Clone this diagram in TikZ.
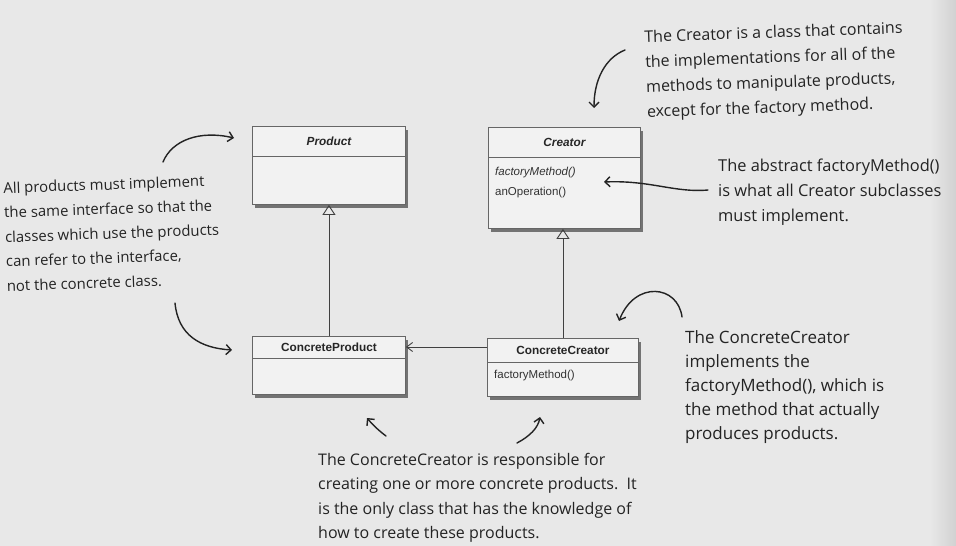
\documentclass[tikz,border=0pt]{standalone}
\usepackage{fontspec}
\setmainfont{Liberation Sans}
\newfontfamily\hand{Open Sans}
\usetikzlibrary{arrows.meta,shadows,calc}
\definecolor{bg}{RGB}{232,232,232}
\definecolor{boxfill}{RGB}{242,242,242}
\definecolor{ink}{RGB}{35,35,35}
\begin{document}
\begin{tikzpicture}[x=1pt,y=-1pt,
  umlbox/.style={draw=black!60, line width=0.9pt, fill=boxfill, anchor=north west, inner sep=0pt,
    drop shadow={shadow xshift=3pt,shadow yshift=-3.5pt,fill=black,opacity=0.5}},
  divider/.style={draw=black!60, line width=0.9pt},
  umltitle/.style={font=\fontsize{11.8}{13}\selectfont\bfseries, text=black!85, inner sep=0pt},
  umlop/.style={font=\fontsize{11.5}{13}\selectfont, text=black!80, inner sep=0pt, anchor=west},
  inherit/.style={draw=black!75, line width=0.9pt, -{Triangle[open,length=10pt,width=13pt]}},
  assoc/.style={draw=black!75, line width=0.9pt, -{Straight Barb[length=6pt,width=9pt]}},
  note/.style={font=\hand\fontsize{16}{24}\selectfont, text=ink, align=left, inner sep=0pt},
  handarrow/.style={draw=ink, line width=1.4pt, line cap=round, -{Straight Barb[length=5pt,width=10pt,line width=1.4pt]}}
]
\fill[bg] (0,0) rectangle (956,546);
\shade[left color=bg, right color=black!18] (930,0) rectangle (956,546);

% UML boxes
\node[umlbox, minimum width=153pt, minimum height=78pt] (prod) at (252,126) {};
\node[umlbox, minimum width=152pt, minimum height=101pt] (cre) at (488,127) {};
\node[umlbox, minimum width=153pt, minimum height=58pt] (cprod) at (252,336) {};
\node[umlbox, minimum width=151pt, minimum height=58pt] (ccre) at (487,338) {};

\draw[divider] ($(prod.north west)+(0,30)$) -- ($(prod.north east)+(0,30)$);
\draw[divider] ($(cre.north west)+(0,30)$) -- ($(cre.north east)+(0,30)$);
\draw[divider] ($(cprod.north west)+(0,22)$) -- ($(cprod.north east)+(0,22)$);
\draw[divider] ($(ccre.north west)+(0,24)$) -- ($(ccre.north east)+(0,24)$);

\node[umltitle] (prodt) at ($(prod.north)+(0,15)$) {\itshape Product};
\node[umltitle] (cret) at ($(cre.north)+(0,15)$) {\itshape Creator};
\node[umltitle] (cprodt) at ($(cprod.north)+(0,11)$) {ConcreteProduct};
\node[umltitle] (ccret) at ($(ccre.north)+(0,12)$) {ConcreteCreator};
\node[umlop] (creop1) at ($(cre.north west)+(7,46)$) {\itshape factoryMethod()};
\node[umlop] (creop2) at ($(cre.north west)+(7,66)$) {anOperation()};
\node[umlop] (ccreop) at ($(ccre.north west)+(7,38)$) {factoryMethod()};

% relations
\draw[inherit] (cprod.north) -- (prod.south);
\draw[inherit] (ccre.north) -- (ccre.north |- cre.south);
\coordinate (assocstart) at ($(ccre.north west)+(0,9)$);
\draw[assoc] (assocstart) -- (assocstart -| cprod.east);

% notes
\node[note, anchor=north west, rotate=2, font=\hand\fontsize{14.9}{24.5}\selectfont] (n1) at (3,182) {All products must implement\\the same interface so that the\\classes which use the products\\can refer to the interface,\\not the concrete class.};
\node[note, anchor=north west, rotate=2, font=\hand\fontsize{16}{25}\selectfont] (n2) at (644,30) {The Creator is a class that contains\\the implementations for all of the\\methods to manipulate products,\\except for the factory method.};
\node[note, anchor=north west, font=\hand\fontsize{16.4}{25}\selectfont] (n3) at (718,159) {The abstract factoryMethod()\\is what all Creator subclasses\\must implement.};
\node[note, anchor=north west, font=\hand\fontsize{17}{24}\selectfont] (n4) at (685,330) {The ConcreteCreator\\implements the\\factoryMethod(), which is\\the method that actually\\produces products.};
\node[note, anchor=north west, font=\hand\fontsize{16}{24.3}\selectfont] (n5) at (318,453) {The ConcreteCreator is responsible for\\creating one or more concrete products.\ \ It\\is the only class that has the knowledge of\\how to create these products.};

% hand arrows
\coordinate (a1s) at (163,162);
\coordinate (a1e) at (234,138);
\draw[handarrow] (a1s) .. controls (172,140) and (200,130) .. (a1e);
\coordinate (a2s) at (175,303);
\coordinate (a2e) at (232,350);
\draw[handarrow] (a2s) .. controls (178,335) and (200,348) .. (a2e);
\coordinate (a3s) at (625,50);
\coordinate (a3e) at (594,108);
\draw[handarrow] (a3s) .. controls (605,58) and (594,80) .. (a3e);
\coordinate (a4s) at (708,190);
\coordinate (a4e) at (604,182);
\draw[handarrow] (a4s) .. controls (675,193) and (650,180) .. (a4e);
\coordinate (a5s) at (682,317);
\coordinate (a5e) at (619,321);
\draw[handarrow] (a5s) .. controls (678,285) and (635,280) .. (a5e);
\coordinate (a6s) at (386,436);
\coordinate (a6e) at (367,418);
\draw[handarrow] (a6s) .. controls (378,430) and (372,424) .. (a6e);
\coordinate (a7s) at (517,443);
\coordinate (a7e) at (540,417);
\draw[handarrow] (a7s) .. controls (530,436) and (538,428) .. (a7e);
\end{tikzpicture}
\end{document}
